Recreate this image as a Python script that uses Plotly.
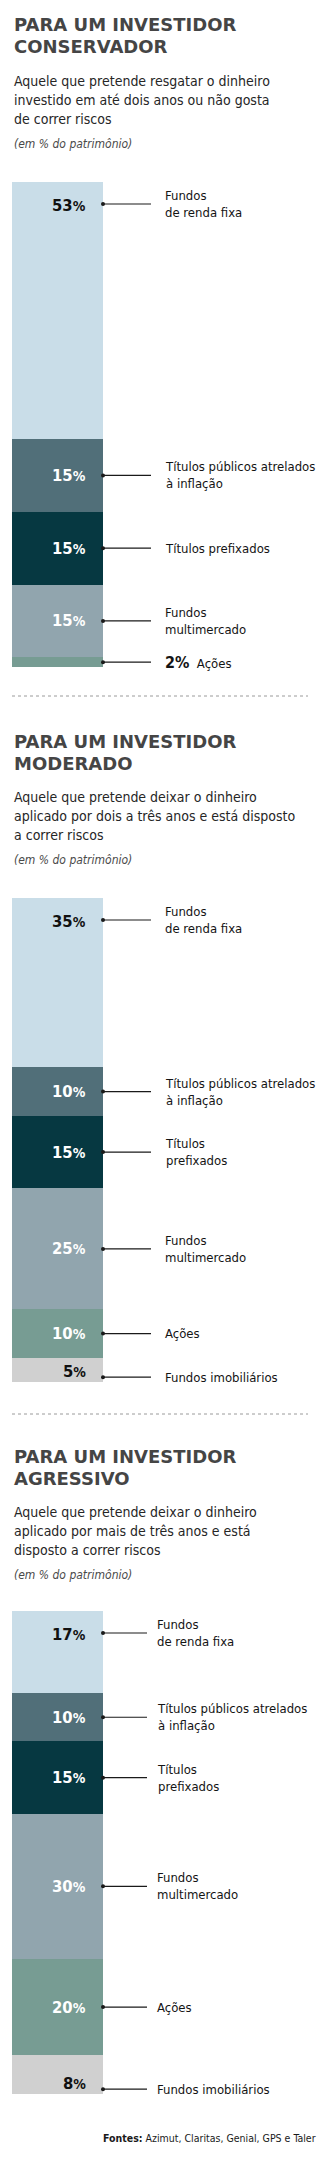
import plotly.graph_objects as go

W, H = 331, 2160

# ---------------- data ----------------
section_titles = [
    ["PARA UM INVESTIDOR", "CONSERVADOR"],
    ["PARA UM INVESTIDOR", "MODERADO"],
    ["PARA UM INVESTIDOR", "AGRESSIVO"],
]
section_subtitles = [
    ["Aquele que pretende resgatar o dinheiro", "investido em até dois anos ou não gosta", "de correr riscos"],
    ["Aquele que pretende deixar o dinheiro", "aplicado por dois a três anos e está disposto", "a correr riscos"],
    ["Aquele que pretende deixar o dinheiro", "aplicado por mais de três anos e está", "disposto a correr riscos"],
]
unit_note = "(em % do patrimônio)"

conservador_cats = ["Fundos de renda fixa", "Títulos públicos atrelados à inflação", "Títulos prefixados",
                    "Fundos multimercado", "Ações"]
conservador_labels = ["Fundos<br>de renda fixa", "Títulos públicos atrelados<br>à inflação", "Títulos prefixados",
                      "Fundos<br>multimercado", "Ações"]
conservador_values = [53, 15, 15, 15, 2]

moderado_cats = ["Fundos de renda fixa", "Títulos públicos atrelados à inflação", "Títulos prefixados",
                 "Fundos multimercado", "Ações", "Fundos imobiliários"]
moderado_labels = ["Fundos<br>de renda fixa", "Títulos públicos atrelados<br>à inflação", "Títulos<br>prefixados",
                   "Fundos<br>multimercado", "Ações", "Fundos imobiliários"]
moderado_values = [35, 10, 15, 25, 10, 5]

agressivo_cats = moderado_cats
agressivo_labels = moderado_labels
agressivo_values = [17, 10, 15, 30, 20, 8]

source_text = "<b>Fontes:</b> Azimut, Claritas, Genial, GPS e Taler"

# ---------------- style ----------------
colors = {
    "Fundos de renda fixa": "#c9dde8",
    "Títulos públicos atrelados à inflação": "#516f79",
    "Títulos prefixados": "#063841",
    "Fundos multimercado": "#91a5ae",
    "Ações": "#779c93",
    "Fundos imobiliários": "#d0d0d0",
}
dark_value_text = {"Fundos de renda fixa", "Fundos imobiliários"}

NARROW = "DejaVu Sans Condensed, Liberation Sans Narrow, sans-serif"
TITLE_FONT = "DejaVu Sans, Arial, sans-serif"

sections = [
    dict(cats=conservador_cats, labels=conservador_labels, values=conservador_values,
         title_y=25, bar=(182, 667), line_end=151, label_x=163),
    dict(cats=moderado_cats, labels=moderado_labels, values=moderado_values,
         title_y=741, bar=(898, 1382), line_end=151, label_x=163),
    dict(cats=agressivo_cats, labels=agressivo_labels, values=agressivo_values,
         title_y=1456, bar=(1611, 2094), line_end=147, label_x=155),
]
dividers = [696, 1414]
BAR_X0, BAR_X1, VALUE_X = 12, 103, 88


def py(pix):
    return 1 - pix / H


def px(pix):
    return pix / W


fig = go.Figure()
annotations = []
shapes = []
layout_axes = {}

for i, s in enumerate(sections):
    k = "" if i == 0 else str(i + 1)
    xk, yk = "x" + k, "y" + k
    top, bot = s["bar"]
    layout_axes["xaxis" + k] = dict(domain=[px(BAR_X0), px(BAR_X1)], anchor=yk, type="category",
                                    range=[-0.5, 0.5], visible=False, fixedrange=True)
    layout_axes["yaxis" + k] = dict(domain=[py(bot), py(top)], anchor=xk, range=[100, 0],
                                    visible=False, fixedrange=True)
    ppu = (bot - top) / 100.0

    for c, v in zip(s["cats"], s["values"]):
        fig.add_trace(go.Bar(x=[""], y=[v], marker=dict(color=colors[c], line=dict(width=0)),
                             width=1, xaxis=xk, yaxis=yk, showlegend=False, name=c,
                             hovertemplate=c + ": %{y}%<extra></extra>"))

    # texts of the section
    ty = s["title_y"]
    for j, line in enumerate(section_titles[i]):
        annotations.append(dict(xref="paper", yref="paper", x=px(12), y=py(ty + 22 * j), xanchor="left",
                                yanchor="middle", showarrow=False, text="<b>" + line + "</b>",
                                font=dict(family=TITLE_FONT, size=18, color="#454545")))
    for j, line in enumerate(section_subtitles[i]):
        annotations.append(dict(xref="paper", yref="paper", x=px(12), y=py(ty + 56 + 19 * j), xanchor="left",
                                yanchor="middle", showarrow=False, text=line,
                                font=dict(family=NARROW, size=14, color="#262626")))
    annotations.append(dict(xref="paper", yref="paper", x=px(12), y=py(ty + 119), xanchor="left",
                            yanchor="middle", showarrow=False, text="<i>" + unit_note + "</i>",
                            font=dict(family=NARROW, size=12, color="#4a4a4a")))

    # labels, leader lines, values
    cum = 0
    n = len(s["values"])
    for j, (c, lab, v) in enumerate(zip(s["cats"], s["labels"], s["values"])):
        start, end = cum, cum + v
        cum = end
        if j == 0:
            ly = start + 22 / ppu
            vy = ly + 0.4
        elif j == n - 1:
            ly = end - 1.0
            vy = end - 2.2
        else:
            ly = (start + end) / 2
            vy = ly
        shapes.append(dict(type="line", xref="paper", yref=yk, x0=px(BAR_X1), x1=px(s["line_end"]),
                           y0=ly, y1=ly, line=dict(color="#1a1a1a", width=1.2)))
        shapes.append(dict(type="circle", xref="paper", yref=yk, xsizemode="pixel", ysizemode="pixel",
                           xanchor=px(BAR_X1), yanchor=ly, x0=-2, x1=2, y0=-2, y1=2,
                           fillcolor="#1a1a1a", line=dict(width=0)))
        if v < 3:
            txt = "<span style='font-size:16px'><b>%d%%</b></span>  %s" % (v, lab)
        else:
            txt = lab
            vcol = "#111111" if c in dark_value_text else "#ffffff"
            annotations.append(dict(xref="paper", yref=yk, x=px(VALUE_X), y=vy, xanchor="right",
                                    yanchor="middle", showarrow=False,
                                    text="<b>%d</b><span style='font-size:14px'><b>%%</b></span>" % v,
                                    font=dict(family=NARROW, size=16.5, color=vcol)))
        annotations.append(dict(xref="paper", yref=yk, x=px(s["label_x"]), y=ly, xanchor="left",
                                yanchor="middle", align="left", showarrow=False, text=txt,
                                font=dict(family=NARROW, size=13, color="#141414")))

for d in dividers:
    shapes.append(dict(type="line", xref="paper", yref="paper", x0=px(12), x1=px(308), y0=py(d), y1=py(d),
                       line=dict(color="#9a9a9a", width=1, dash="dot")))

annotations.append(dict(xref="paper", yref="paper", x=px(318), y=py(2138), xanchor="right", yanchor="middle",
                        showarrow=False, text=source_text,
                        font=dict(family=NARROW, size=10.5, color="#1a1a1a")))

fig.update_layout(
    width=W, height=H, margin=dict(l=0, r=0, t=0, b=0),
    paper_bgcolor="white", plot_bgcolor="white",
    barmode="stack", bargap=0, showlegend=False,
    annotations=annotations, shapes=shapes,
    **layout_axes,
)

fig.write_html("out.html", config={"displayModeBar": False})
